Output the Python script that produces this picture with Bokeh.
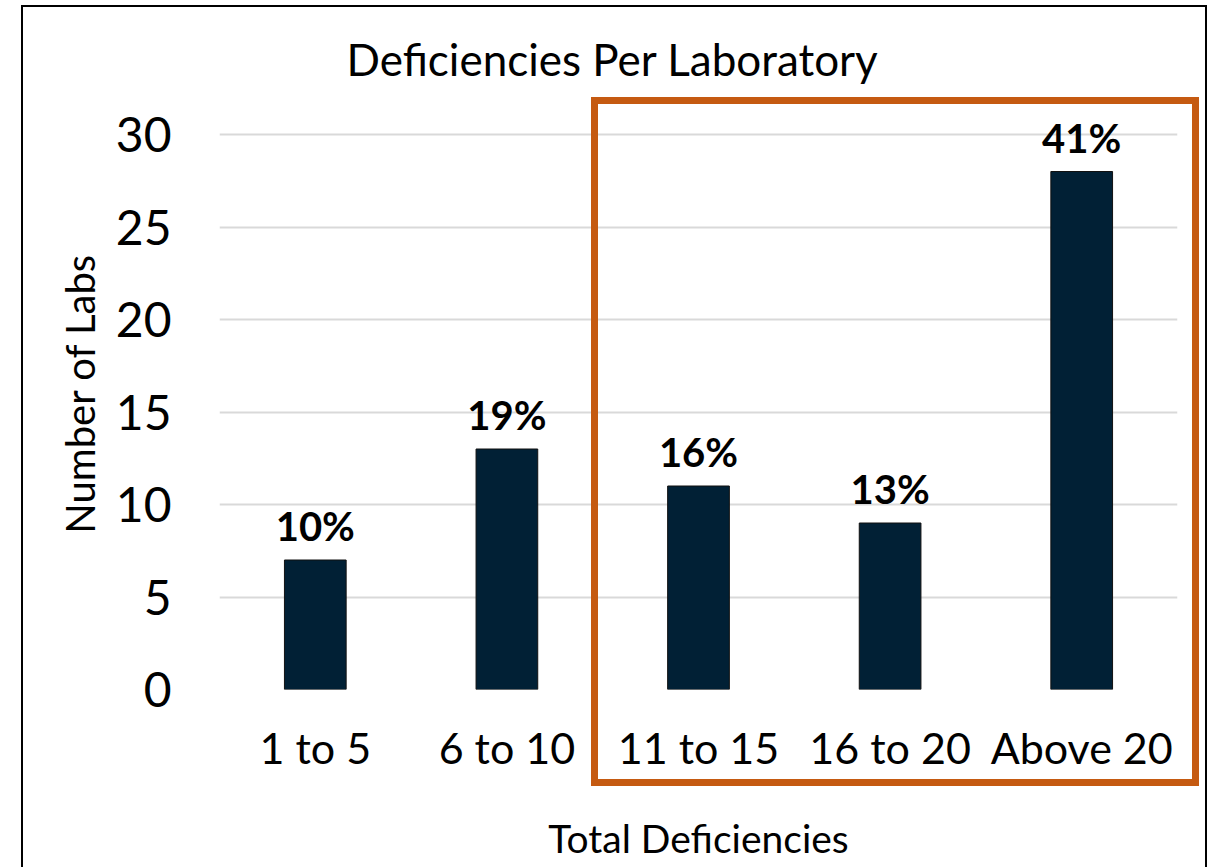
from bokeh.plotting import figure
from bokeh.models import ColumnDataSource, LabelSet, FixedTicker, Range1d, InlineStyleSheet
from bokeh.core.properties import value
from bokeh.embed import file_html
from bokeh.resources import INLINE

categories = ["1 to 5", "6 to 10", "11 to 15", "16 to 20", "Above 20"]
labs = [7, 13, 11, 9, 28]
pct_labels = ["10%", "19%", "16%", "13%", "41%"]
y_ticks = [0, 5, 10, 15, 20, 25, 30]

FONT = "Lato"
BAR = "#012035"
ORANGE = "#C55A11"

src = ColumnDataSource(dict(cat=categories, n=labs, pct=pct_labels))

p = figure(x_range=categories, y_range=Range1d(0, 32),
           width=1215, height=867, output_backend="svg", toolbar_location=None,
           min_border_left=219, min_border_right=38, min_border_top=97, min_border_bottom=178,
           title="Deficiencies Per Laboratory")
p.outline_line_color = None
p.background_fill_color = "white"
p.border_fill_color = "white"

p.title.text_font = FONT
p.title.text_font_size = "44px"
p.title.text_font_style = "normal"
p.title.text_color = "black"
p.title.align = "left"
p.title.offset = 127
p.title.standoff = 25

p.vbar(x="cat", top="n", width=0.322, source=src, fill_color=BAR, line_color="#111111", line_width=1)

labels = LabelSet(x="cat", y="n", text="pct", source=src, y_offset=10,
                  text_align="center", text_baseline="bottom",
                  text_font=value(FONT), text_font_size=value("40px"), text_font_style=value("bold"),
                  text_color="black")
p.add_layout(labels)

p.yaxis.ticker = FixedTicker(ticks=y_ticks)
p.yaxis.major_label_text_font = FONT
p.yaxis.major_label_text_font_size = "48px"
p.yaxis.major_label_text_color = "black"
p.yaxis.major_label_standoff = 42
p.yaxis.axis_line_color = None
p.yaxis.major_tick_line_color = None
p.yaxis.minor_tick_line_color = None
p.yaxis.axis_label = "Number of Labs"
p.yaxis.axis_label_text_font = FONT
p.yaxis.axis_label_text_font_size = "40px"
p.yaxis.axis_label_text_font_style = "normal"
p.yaxis.axis_label_text_color = "black"
p.yaxis.axis_label_standoff = 9

p.xaxis.major_label_text_font = FONT
p.xaxis.major_label_text_font_size = "43px"
p.xaxis.major_label_text_color = "black"
p.xaxis.major_label_standoff = 26
p.xaxis.axis_line_color = None
p.xaxis.major_tick_line_color = None
p.xaxis.axis_label = "Total Deficiencies"
p.xaxis.axis_label_text_font = FONT
p.xaxis.axis_label_text_font_size = "39px"
p.xaxis.axis_label_text_font_style = "normal"
p.xaxis.axis_label_text_color = "black"
p.xaxis.axis_label_standoff = 39

p.xgrid.grid_line_color = None
p.ygrid.grid_line_color = "#D9D9D9"
p.ygrid.grid_line_width = 2

# Orange highlight frame round the last three categories, and the outer chart border.
# Both lie partly outside the plot frame, where Bokeh clips annotations, so they are
# drawn as overlay boxes by the figure's own stylesheet.
css = f"""
:host::before {{
  content: ""; position: absolute; box-sizing: border-box; pointer-events: none; z-index: 100;
  left: 591px; top: 97px; width: 608px; height: 689px;
  border: 7.7px solid {ORANGE};
}}
:host::after {{
  content: ""; position: absolute; box-sizing: border-box; pointer-events: none; z-index: 100;
  left: 21px; top: 5px; width: 1186px; height: 862px;
  border-style: solid; border-color: black; border-width: 2px 2px 0 2px;
}}
"""
p.stylesheets = [InlineStyleSheet(css=css)]

open("out.html", "w").write(file_html(p, INLINE))
